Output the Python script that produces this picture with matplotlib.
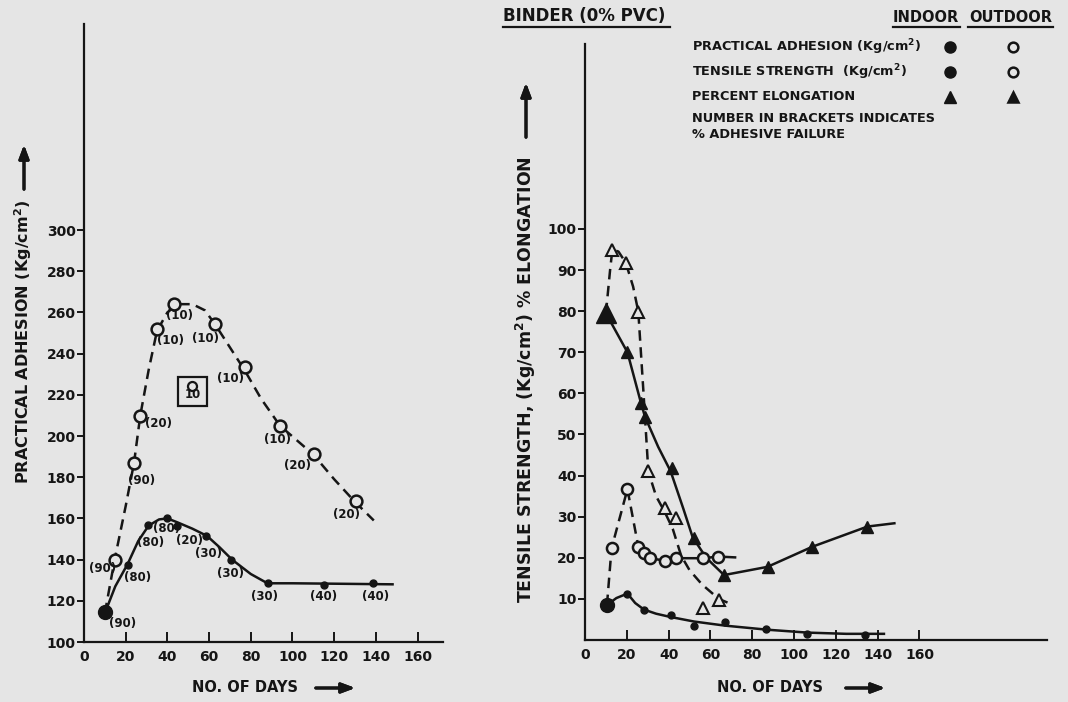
import matplotlib.pyplot as plt
from matplotlib.lines import Line2D
from matplotlib.patches import Rectangle

plt.rcParams["font.family"] = ["DejaVu Sans"]
plt.rcParams["font.weight"] = "bold"

INK = "#151515"
PAPER = "#e5e5e5"
W, H = 1068, 702

# ---- left panel: practical adhesion (Kg/cm2) ----
adh_out_days = [14.7, 24, 27, 35, 43, 62.6, 77, 94.2, 110.5, 130.5]
adh_out_vals = [140, 186.7, 209.9, 251.8, 263.9, 254.4, 233.3, 204.9, 191.3, 168.6]
adh_out_fail = ["(90)", "(90)", "(20)", "(10)", "(10)", "(10)", "(10)", "(10)", "(20)", "(20)"]
adh_out_curve_days = [10, 14.7, 20, 24, 27, 31, 35, 40, 45, 52, 58, 63, 70, 77, 85, 94, 102, 110, 120, 130, 139]
adh_out_curve_vals = [114, 140, 166, 187, 210, 232, 251, 260, 264, 264, 261, 254, 243, 232, 218, 205, 198, 191, 179, 168, 159]

adh_in_days = [21.1, 30.7, 39.9, 44.6, 58.6, 70.6, 88.1, 115, 138.8]
adh_in_vals = [137.4, 156.8, 160, 156.3, 151.6, 139.8, 128.8, 127.7, 128.8]
adh_in_fail = ["(90)", "(80)", "(80)", "(80)", "(20)", "(30)", "(30)", "(30)", "(40)", "(40)"]
adh_in_curve_days = [10, 15, 21, 26, 31, 36, 40, 45, 52, 59, 65, 71, 80, 88, 100, 120, 148]
adh_in_curve_vals = [114, 127, 138, 149, 156.5, 159.5, 160, 158, 155, 151.5, 146, 140, 133, 128.5, 128.5, 128.3, 128]
adh_start_day, adh_start_val = 10, 114.5

box_day, box_val, box_label = 52, 224.5, "10"

# ---- right panel: tensile strength (Kg/cm2) and % elongation ----
elo_out_days = [13.1, 19.5, 25.5, 30.3, 38.3, 43.4, 56.4, 64.1]
elo_out_vals = [94.9, 91.8, 79.9, 41, 32, 29.6, 7.7, 9.7]
elo_out_curve_days = [10, 12, 13.1, 16, 19.5, 23, 25.5, 28, 30.3, 34, 38.3, 42, 46, 50, 56, 64, 71]
elo_out_curve_vals = [79.5, 90, 95, 94.5, 91.8, 86, 79.9, 60, 41, 35, 31, 27, 20.5, 17, 13.5, 10, 8.5]

elo_in_days = [20.3, 26.6, 28.7, 41.8, 52.1, 66.5, 87.3, 108.8, 135.1]
elo_in_vals = [70.1, 57.6, 54.3, 41.8, 24.7, 15.8, 17.8, 22.7, 27.6]
elo_in_curve_days = [10, 20.3, 26.6, 28.7, 35, 41, 47, 51.5, 58, 66.5, 87.3, 108.8, 135.1, 148]
elo_in_curve_vals = [79.5, 70, 58, 54.3, 47, 41, 32, 25, 20, 15.8, 17.8, 22.7, 27.6, 28.4]
elo_start_day, elo_start_val = 10, 79.5

ts_out_days = [12.7, 20.3, 25.5, 28.2, 30.9, 38.3, 43.4, 56.4, 63.8]
ts_out_vals = [22.3, 36.7, 22.7, 21.2, 19.9, 19.3, 19.9, 19.9, 20.3]
ts_out_rise_days = [10.5, 12.7, 20.3, 25.5]
ts_out_rise_vals = [8.5, 22.3, 36.7, 22.7]
ts_out_flat_days = [25.5, 28.2, 30.9, 38.3, 43.4, 56.4, 63.8, 71.8]
ts_out_flat_vals = [22.7, 21.2, 19.9, 19.3, 19.9, 19.9, 20.3, 20.1]

ts_in_days = [20.3, 28.2, 40.9, 52.3, 66.9, 86.8, 106, 133.9]
ts_in_vals = [11.3, 7.4, 6.0, 3.4, 4.3, 2.6, 1.4, 1.3]
ts_in_curve_days = [10.5, 15, 20.3, 24, 28.2, 34, 40.9, 52.1, 66.9, 87.3, 106.4, 125, 143]
ts_in_curve_vals = [8.5, 10.2, 11.3, 9, 7.4, 6.4, 5.6, 4.5, 3.5, 2.5, 1.8, 1.5, 1.5]
ts_start_day, ts_start_val = 10.5, 8.5

day_ticks = [0, 20, 40, 60, 80, 100, 120, 140, 160]
adh_ticks = [100, 120, 140, 160, 180, 200, 220, 240, 260, 280, 300]
pct_ticks = [10, 20, 30, 40, 50, 60, 70, 80, 90, 100]

# label offsets (pixels) for the bracket numbers
out_lab_off = [(-12, -9), (8, -17), (18, -8), (14, -11), (6, -11), (-9, -15), (-14, -11), (-3, -14), (-17, -12), (-10, -14)]
in_lab_off = [(18, -11), (10, -13), (3, -18), (-1, -10), (13, -14), (2, -18), (-1, -13), (-3, -14), (0, -12), (2, -14)]

DASH = (0, (4.2, 2.6))
LW = 1.8


def fx(px):
    return px / W


def fy(py):
    return 1 - py / H


def style_axes(ax, yticks):
    for s in ["top", "right"]:
        ax.spines[s].set_visible(False)
    for s in ["left", "bottom"]:
        ax.spines[s].set_linewidth(1.6)
        ax.spines[s].set_color(INK)
    ax.set_facecolor("none")
    ax.set_xticks(day_ticks)
    ax.set_yticks(yticks)
    ax.tick_params(axis="x", direction="in", length=7, width=1.4, colors=INK,
                   labelsize=10, pad=6)
    ax.tick_params(axis="y", direction="out", length=5, width=1.4, colors=INK,
                   labelsize=10, pad=1)


fig = plt.figure(figsize=(W / 100, H / 100), dpi=100, facecolor=PAPER)

# ---------------- left panel ----------------
axl = fig.add_axes([fx(84), fy(642), fx(358.6), 618 / H])
axl.set_xlim(0, 172)
axl.set_ylim(100, 400)
style_axes(axl, adh_ticks)

axl.plot(adh_out_curve_days, adh_out_curve_vals, color=INK, lw=LW, ls=DASH)
axl.plot(adh_in_curve_days, adh_in_curve_vals, color=INK, lw=LW)
axl.plot(adh_out_days, adh_out_vals, ls="none", marker="o", ms=8.5, mfc=PAPER,
         mec=INK, mew=1.8)
axl.plot(adh_in_days, adh_in_vals, ls="none", marker="o", ms=5, color=INK)
axl.plot([adh_start_day], [adh_start_val], ls="none", marker="o", ms=10, color=INK)

for d, v, t, off in zip(adh_out_days, adh_out_vals, adh_out_fail, out_lab_off):
    axl.annotate(t, (d, v), xytext=off, textcoords="offset pixels", ha="center",
                 va="center", fontsize=8.5, color=INK)
for d, v, t, off in zip([adh_start_day] + adh_in_days, [adh_start_val] + adh_in_vals,
                        adh_in_fail, in_lab_off):
    axl.annotate(t, (d, v), xytext=off, textcoords="offset pixels", ha="center",
                 va="center", fontsize=8.5, color=INK)

# boxed outdoor point
axl.plot([box_day], [box_val], ls="none", marker="o", ms=6.5, mfc=PAPER, mec=INK, mew=1.6)
axl.annotate(box_label, (box_day, box_val), xytext=(0, -9), textcoords="offset pixels",
             ha="center", va="center", fontsize=8.5, color=INK)
axl.add_patch(Rectangle((box_day - 7, box_val - 10), 14, 14, fill=False,
                        ec=INK, lw=1.6))

# ---------------- right panel ----------------
axr = fig.add_axes([fx(585), fy(640), fx(462), 596 / H])
axr.set_xlim(0, 221)
axr.set_ylim(0, 145)
style_axes(axr, pct_ticks)

axr.plot(elo_out_curve_days, elo_out_curve_vals, color=INK, lw=LW, ls=DASH)
axr.plot(elo_in_curve_days, elo_in_curve_vals, color=INK, lw=LW)
axr.plot(ts_out_rise_days, ts_out_rise_vals, color=INK, lw=LW, ls=DASH)
axr.plot(ts_out_flat_days, ts_out_flat_vals, color=INK, lw=LW)
axr.plot(ts_in_curve_days, ts_in_curve_vals, color=INK, lw=LW)

axr.plot(elo_out_days, elo_out_vals, ls="none", marker="^", ms=8, mfc=PAPER,
         mec=INK, mew=1.5)
axr.plot(elo_in_days, elo_in_vals, ls="none", marker="^", ms=8, color=INK)
axr.plot([elo_start_day], [elo_start_val], ls="none", marker="^", ms=14, color=INK)
axr.plot(ts_out_days, ts_out_vals, ls="none", marker="o", ms=8, mfc=PAPER,
         mec=INK, mew=1.8)
axr.plot(ts_in_days, ts_in_vals, ls="none", marker="o", ms=5, color=INK)
axr.plot([ts_start_day], [ts_start_val], ls="none", marker="o", ms=10, color=INK)

# ---------------- axis titles ----------------
fig.text(fx(23), fy(342), "PRACTICAL ADHESION (Kg/cm$\\mathbf{^2}$)", rotation=90,
         ha="center", va="center", fontsize=11.5, color=INK)
fig.text(fx(526), fy(380), "TENSILE STRENGTH, (Kg/cm$\\mathbf{^2}$) % ELONGATION",
         rotation=90, ha="center", va="center", fontsize=12.5, color=INK)
fig.text(fx(245), fy(688), "NO. OF DAYS", ha="center", va="center", fontsize=10.5,
         color=INK)
fig.text(fx(770), fy(688), "NO. OF DAYS", ha="center", va="center", fontsize=10.5,
         color=INK)

arrow = dict(arrowstyle="-|>,head_length=0.8,head_width=0.3", color=INK, lw=2.2)
fig.add_artist(plt.annotate("", xy=(fx(24), fy(142)), xytext=(fx(24), fy(192)),
                            xycoords="figure fraction", arrowprops=arrow))
fig.add_artist(plt.annotate("", xy=(fx(526), fy(80)), xytext=(fx(526), fy(140)),
                            xycoords="figure fraction", arrowprops=arrow))
fig.add_artist(plt.annotate("", xy=(fx(358), fy(688)), xytext=(fx(313), fy(688)),
                            xycoords="figure fraction", arrowprops=arrow))
fig.add_artist(plt.annotate("", xy=(fx(888), fy(688)), xytext=(fx(843), fy(688)),
                            xycoords="figure fraction", arrowprops=arrow))

# ---------------- header / legend ----------------
fig.text(fx(503), fy(16), "BINDER (0% PVC)", ha="left", va="center", fontsize=12,
         color=INK)
fig.text(fx(926), fy(18), "INDOOR", ha="center", va="center", fontsize=10.5, color=INK)
fig.text(fx(1011), fy(18), "OUTDOOR", ha="center", va="center", fontsize=10.5, color=INK)
for x0, x1 in [(503, 670), (893, 960), (968, 1053)]:
    fig.add_artist(Line2D([fx(x0), fx(x1)], [fy(27), fy(27)], color=INK, lw=1.6))

legend_rows = ["PRACTICAL ADHESION (Kg/cm$\\mathbf{^2}$)",
               "TENSILE STRENGTH  (Kg/cm$\\mathbf{^2}$)",
               "PERCENT ELONGATION",
               "NUMBER IN BRACKETS INDICATES",
               "% ADHESIVE FAILURE"]
row_y = [47, 72, 97, 118, 135]
for t, y in zip(legend_rows, row_y):
    fig.text(fx(692), fy(y), t, ha="left", va="center", fontsize=9.3, color=INK)
for y, m in zip(row_y[:3], ["o", "o", "^"]):
    fig.add_artist(Line2D([fx(950)], [fy(y)], marker=m, ms=8, color=INK, ls="none"))
    fig.add_artist(Line2D([fx(1013)], [fy(y)], marker=m, ms=7, mfc=PAPER if m == "o" else INK,
                          mec=INK, mew=1.8, ls="none"))

fig.savefig("out.png", dpi=100, facecolor=PAPER)
